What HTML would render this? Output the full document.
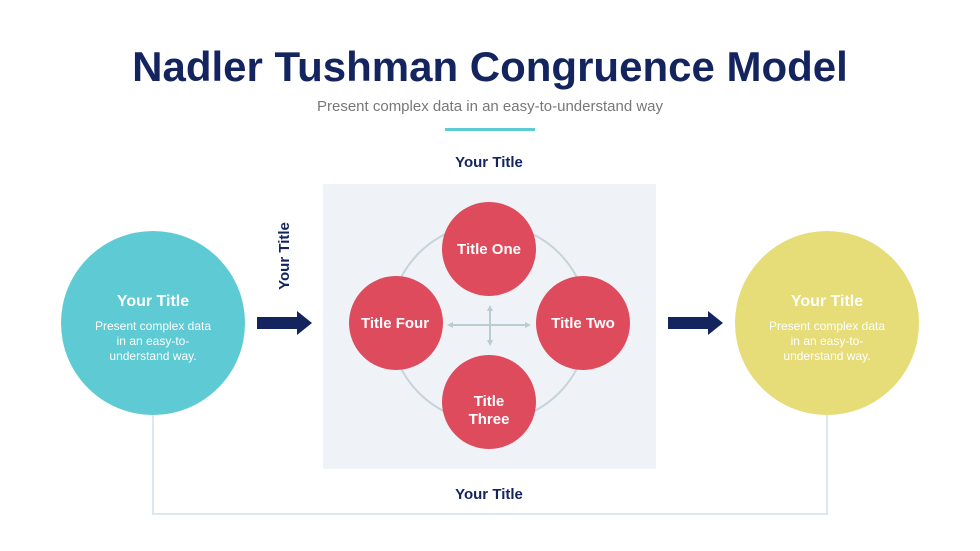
<!DOCTYPE html>
<html><head><style>
body{margin:0;width:980px;height:551px;background:#fff;font-family:"Liberation Sans",sans-serif;position:relative;overflow:hidden}
</style></head><body>
<svg width="980" height="551" style="position:absolute;left:0;top:0" font-family="Liberation Sans, sans-serif">
<text x="490" y="81" text-anchor="middle" font-size="42" font-weight="bold" fill="#13245f">Nadler Tushman Congruence Model</text>
<text x="490" y="111" text-anchor="middle" font-size="15" fill="#777">Present complex data in an easy-to-understand way</text>
<rect x="445" y="128" width="90" height="3" fill="#5ccbd3"/>
<text x="489" y="167" text-anchor="middle" font-size="15" font-weight="bold" fill="#13245f">Your Title</text>
<text x="489" y="499" text-anchor="middle" font-size="15" font-weight="bold" fill="#13245f">Your Title</text>
<text transform="translate(289,256) rotate(-90)" text-anchor="middle" font-size="15" font-weight="bold" fill="#13245f">Your Title</text>
<polyline points="153,415 153,514 827,514 827,415" fill="none" stroke="#dfe7ee" stroke-width="2"/>
<rect x="323" y="184" width="333" height="285" fill="#eff3f7"/>
<circle cx="489" cy="323" r="99" fill="none" stroke="#c6d4da" stroke-width="2"/>
<g stroke="#b9ccd3" stroke-width="2" fill="#b9ccd3">
<line x1="450" y1="325" x2="528" y2="325"/><line x1="490" y1="308" x2="490" y2="343"/>
<polygon points="447,325 453,322 453,328" stroke="none"/><polygon points="531,325 525,322 525,328" stroke="none"/>
<polygon points="490,305 487,311 493,311" stroke="none"/><polygon points="490,346 487,340 493,340" stroke="none"/>
</g>
<g fill="#dd4b5c">
<circle cx="489" cy="249" r="47"/><circle cx="489" cy="402" r="47"/>
<circle cx="396" cy="323" r="47"/><circle cx="583" cy="323" r="47"/>
</g>
<g fill="#fff" font-size="15" font-weight="bold" text-anchor="middle">
<text x="489" y="254">Title One</text>
<text x="395" y="328">Title Four</text>
<text x="583" y="328">Title Two</text>
<text x="489" y="406">Title</text><text x="489" y="424">Three</text>
</g>
<circle cx="153" cy="323" r="92" fill="#5ecad4"/>
<circle cx="827" cy="323" r="92" fill="#e6dc78"/>
<g fill="#fff" text-anchor="middle">
<text x="153" y="306" font-size="16" font-weight="bold">Your Title</text>
<text x="153" y="330" font-size="12">Present complex data</text>
<text x="153" y="345" font-size="12">in an easy-to-</text>
<text x="153" y="360" font-size="12">understand way.</text>
<text x="827" y="306" font-size="16" font-weight="bold">Your Title</text>
<text x="827" y="330" font-size="12">Present complex data</text>
<text x="827" y="345" font-size="12">in an easy-to-</text>
<text x="827" y="360" font-size="12">understand way.</text>
</g>
<g fill="#13245f">
<polygon points="257,317 297,317 297,311 312,323 297,335 297,329 257,329"/>
<polygon points="668,317 708,317 708,311 723,323 708,335 708,329 668,329"/>
</g>
</svg>
</body></html>
